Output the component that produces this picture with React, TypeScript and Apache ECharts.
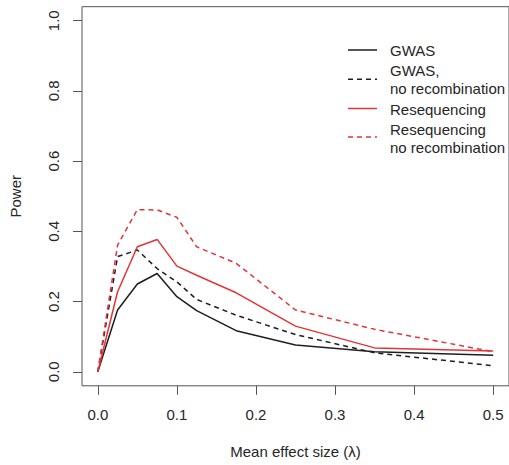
import React, { useEffect, useRef } from "react";
import * as echarts from "echarts";

const effectSizes = [0, 0.025, 0.05, 0.075, 0.1, 0.125, 0.175, 0.25, 0.35, 0.5];
const gwas = [0, 0.176, 0.25, 0.28, 0.214, 0.174, 0.117, 0.076, 0.057, 0.047];
const gwasNoRecomb = [0, 0.328, 0.347, 0.294, 0.256, 0.206, 0.161, 0.106, 0.054, 0.017];
const reseq = [0, 0.228, 0.356, 0.377, 0.301, 0.275, 0.225, 0.13, 0.068, 0.059];
const reseqNoRecomb = [0, 0.361, 0.462, 0.461, 0.44, 0.356, 0.309, 0.176, 0.121, 0.057];
const xTicks = [0, 0.1, 0.2, 0.3, 0.4, 0.5];
const yTicks = [0, 0.2, 0.4, 0.6, 0.8, 1.0];

const BLACK = "#1e1e1e";
const RED = "#e3343a";
const TEXT = "#262626";
const FONT = "'Liberation Sans', Arial, Helvetica, sans-serif";

export default function App() {
  const ref = useRef<HTMLDivElement>(null);
  useEffect(() => {
    if (!ref.current) return;
    const chart = echarts.init(ref.current, null, { renderer: "svg" });
    const pair = (ys: number[]) => effectSizes.map((x, i) => [x, ys[i]]);
    const series = [
      { name: "GWAS", data: pair(gwas), color: BLACK, dash: "solid" },
      { name: "GWAS,\nno recombination", data: pair(gwasNoRecomb), color: BLACK, dash: [5, 4] },
      { name: "Resequencing", data: pair(reseq), color: RED, dash: "solid" },
      { name: "Resequencing\nno recombination", data: pair(reseqNoRecomb), color: RED, dash: [5, 4] },
    ];
    const legendRows = [
      { lineY: 50, texts: [{ t: "GWAS", y: 50 }], color: BLACK, dash: null },
      { lineY: 79.3, texts: [{ t: "GWAS,", y: 70.5 }, { t: "no recombination", y: 88.7 }], color: BLACK, dash: [5, 4] },
      { lineY: 108.5, texts: [{ t: "Resequencing", y: 109 }], color: RED, dash: null },
      { lineY: 137, texts: [{ t: "Resequencing", y: 129 }, { t: "no recombination", y: 147 }], color: RED, dash: [5, 4] },
    ];
    const graphics: any[] = [];
    legendRows.forEach((r) => {
      graphics.push({
        type: "line",
        shape: { x1: 348, y1: r.lineY, x2: 377, y2: r.lineY },
        style: { stroke: r.color, lineWidth: 1.5, lineDash: r.dash || undefined },
      });
      r.texts.forEach((tx) => {
        graphics.push({
          type: "text",
          x: 390,
          y: tx.y,
          style: { text: tx.t, fontSize: 15, fontFamily: FONT, fill: TEXT, verticalAlign: "middle", align: "left" },
        });
      });
    });
    const xPad = 0.04 * (xTicks[xTicks.length - 1] - xTicks[0]);
    const yPad = 0.04 * (yTicks[yTicks.length - 1] - yTicks[0]);
    chart.setOption({
      animation: false,
      backgroundColor: "#fff",
      textStyle: { fontFamily: FONT },
      grid: {
        left: 78, top: 6.7, right: -2.6, bottom: 79.2, containLabel: false,
        show: true, borderColor: "#555", borderWidth: 1, backgroundColor: "transparent",
      },
      xAxis: {
        type: "value",
        min: xTicks[0] - xPad,
        max: xTicks[xTicks.length - 1] + xPad,
        axisLine: { show: false, onZero: false },
        axisTick: { show: true, length: 9, lineStyle: { color: "#555" }, customValues: xTicks },
        splitLine: { show: false },
        axisLabel: { fontSize: 15, color: TEXT, margin: 21, customValues: xTicks, formatter: (v: number) => v.toFixed(1) },
        name: "Mean effect size (λ)",
        nameLocation: "middle",
        nameGap: 58,
        nameTextStyle: { fontSize: 15, color: TEXT },
      },
      yAxis: {
        type: "value",
        min: yTicks[0] - yPad,
        max: yTicks[yTicks.length - 1] + yPad,
        axisLine: { show: false, onZero: false },
        axisTick: { show: true, length: 9, lineStyle: { color: "#555" }, customValues: yTicks },
        splitLine: { show: false },
        axisLabel: { fontSize: 15, color: TEXT, margin: 21, rotate: 90, customValues: yTicks, formatter: (v: number) => v.toFixed(1) },
        name: "Power",
        nameLocation: "middle",
        nameGap: 59,
        nameTextStyle: { fontSize: 15, color: TEXT },
      },
      series: series.map((s) => ({
        type: "line",
        name: s.name,
        data: s.data,
        showSymbol: false,
        symbol: "none",
        lineStyle: { color: s.color, width: 1.5, type: s.dash as any },
        itemStyle: { color: s.color },
      })),
      graphic: graphics,
    });
    return () => chart.dispose();
  }, []);
  return <div ref={ref} style={{ position: "absolute", left: 0, top: 0, width: 509, height: 465 }} />;
}
